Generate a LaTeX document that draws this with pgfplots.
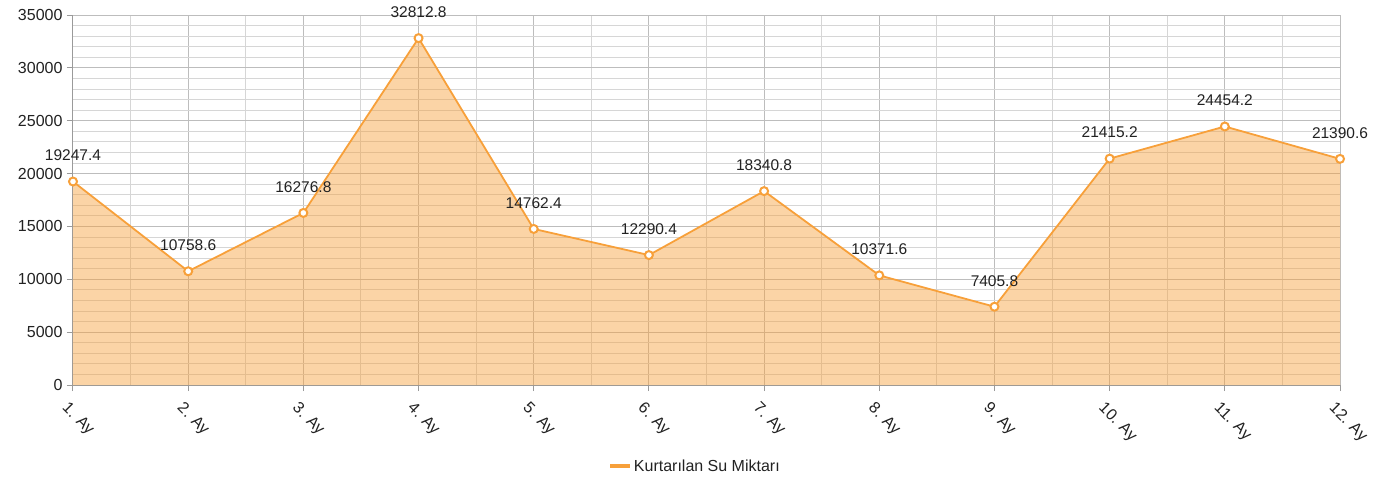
\documentclass[border=0pt]{standalone}
\usepackage{pgfplots}
\pgfplotsset{compat=1.18}
\usetikzlibrary{calc}
\usepackage{fontspec}
\setmainfont{Liberation Sans}
\definecolor{ser}{HTML}{F7A03A}
\definecolor{majg}{HTML}{BDBDBD}
\definecolor{ming}{HTML}{D6D6D6}
\definecolor{axg}{HTML}{9A9A9A}
\definecolor{txt}{HTML}{222222}
\begin{document}
\begin{tikzpicture}[x=1pt,y=1pt]
\begin{axis}[name=ax,
  scale only axis, width=1267pt, height=370pt,
  xmin=1, xmax=12, ymin=0, ymax=35000,
  axis lines=left, axis line style={-, draw=axg, line width=1pt},
  xtick={1,...,12},
  xticklabels={1. Ay,2. Ay,3. Ay,4. Ay,5. Ay,6. Ay,7. Ay,8. Ay,9. Ay,10. Ay,11. Ay,12. Ay},
  ytick={0,5000,...,35000},
  minor x tick num=1, minor y tick num=4,
  grid=both,
  major grid style={draw=majg, line width=1pt},
  minor grid style={draw=ming, line width=1pt},
  tick align=outside, major tick length=6pt, minor tick length=0pt,
  tick style={draw=axg, line width=1pt},
  /pgf/number format/assume math mode=true,
  /pgf/number format/1000 sep={},
  scaled y ticks=false,
  ticklabel style={font=\fontsize{16}{18}\selectfont, text=txt},
  xticklabel style={rotate=-45, anchor=north west, xshift=1pt, yshift=-6pt},
  yticklabel style={xshift=-1pt},
  clip=false,
  legend style={at={(0.491,-0.219)}, anchor=center, draw=none, fill=none,
    font=\fontsize{16}{18}\selectfont, text=txt},
  legend image code/.code={\draw[line width=3.5pt, ser] (0pt,0pt) -- (20pt,0pt);},
]
\addplot[fill=ser, fill opacity=0.45, draw=none, forget plot] table[x=x,y=y] {
x y
1 19247.4
2 10758.6
3 16276.8
4 32812.8
5 14762.4
6 12290.4
7 18340.8
8 10371.6
9 7405.8
10 21415.2
11 24454.2
12 21390.6
} \closedcycle;
\addplot[draw=ser, line width=1.8pt, mark=*, mark size=4pt,
  mark options={fill=white, draw=ser, line width=2pt},
  nodes near coords, point meta=explicit symbolic,
  nodes near coords style={anchor=center, yshift=26pt, text=txt, font=\fontsize{15.5}{18}\selectfont}]
  table[x=x,y=y,meta=l] {
x y l
1 19247.4 19247.4
2 10758.6 10758.6
3 16276.8 16276.8
4 32812.8 32812.8
5 14762.4 14762.4
6 12290.4 12290.4
7 18340.8 18340.8
8 10371.6 10371.6
9 7405.8 7405.8
10 21415.2 21415.2
11 24454.2 24454.2
12 21390.6 21390.6
};
\addlegendentry{Kurtarılan Su Miktarı}
\end{axis}
\path ($(ax.south west)+(-73pt,-94pt)$) rectangle ($(ax.north east)+(51pt,15pt)$);
\end{tikzpicture}
\end{document}
